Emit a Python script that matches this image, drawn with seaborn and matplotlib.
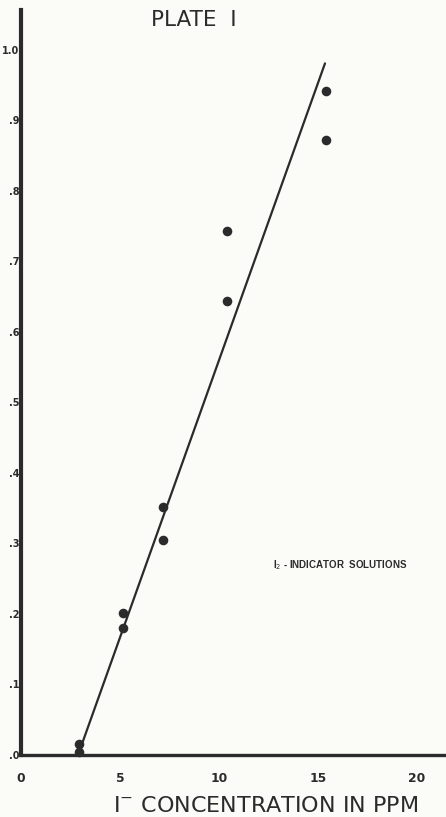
import matplotlib
matplotlib.use("Agg")
import matplotlib.pyplot as plt
import seaborn as sns
import pandas as pd

# Measured absorbance readings for iodide standards
conc_ppm = [2.93, 2.93, 5.15, 5.15, 7.17, 7.17, 10.38, 10.38, 15.4, 15.4]
absorbance = [0.015, 0.004, 0.201, 0.180, 0.352, 0.305, 0.743, 0.644, 0.942, 0.872]

# Calibration line end points
fit_x = [2.88, 15.35]
fit_y = [0.0, 0.981]

x_ticks = [0, 5, 10, 15, 20]
x_tick_labels = ["0", "5", "10", "15", "20"]
y_ticks = [0.0, 0.1, 0.2, 0.3, 0.4, 0.5, 0.6, 0.7, 0.8, 0.9, 1.0]
y_tick_labels = [".0", ".1", ".2", ".3", ".4", ".5", ".6", ".7", ".8", ".9", "1.0"]

ink = "#2b2b2b"
paper = "#fbfbf8"

sns.set_theme(style="white")
plt.rcParams["font.family"] = ["DejaVu Sans"]

fig = plt.figure(figsize=(4.46, 8.17), dpi=100, facecolor=paper)
ax = fig.add_axes([21 / 446, 62 / 817, 1 - 21 / 446, (755 - 10) / 817])
ax.set_facecolor(paper)

points = pd.DataFrame({"conc": conc_ppm, "abs": absorbance})
fit = pd.DataFrame({"conc": fit_x, "abs": fit_y})

sns.lineplot(data=fit, x="conc", y="abs", ax=ax, color=ink, linewidth=1.6)
sns.scatterplot(data=points, x="conc", y="abs", ax=ax, color=ink, s=48,
                edgecolor=ink, linewidth=0, clip_on=False, zorder=5)

ax.set_xlim(0, 21.46)
ax.set_ylim(0, 1.0567)

for side in ["top", "right"]:
    ax.spines[side].set_visible(False)
ax.spines["left"].set_linewidth(3.0)
ax.spines["bottom"].set_linewidth(2.4)
ax.spines["left"].set_color(ink)
ax.spines["bottom"].set_color(ink)

ax.set_xticks(x_ticks)
ax.set_xticklabels(x_tick_labels, fontsize=8.8, fontweight="bold", color=ink)
ax.set_yticks(y_ticks)
ax.set_yticklabels(y_tick_labels, fontsize=7, fontweight="bold", color=ink)
ax.tick_params(axis="both", direction="in", length=4, width=1.0, colors=ink,
               labelcolor=ink)
ax.tick_params(axis="x", pad=12)
ax.tick_params(axis="y", pad=1)

ax.set_xlabel("")
ax.set_ylabel("")

fig.text(194 / 446, 1 - 20 / 817, "PLATE  I", ha="center", va="center",
         fontsize=15.5, color=ink)
fig.text(266 / 446, 1 - 806 / 817, "I$^{-}$ CONCENTRATION IN PPM",
         ha="center", va="center", fontsize=16, color=ink)
ax.text(12.7, 0.27, "I$_{2}$ - INDICATOR  SOLUTIONS",
        ha="left", va="center", fontsize=7.0, fontweight="bold", color=ink,
        family=["Liberation Sans", "DejaVu Sans"])

fig.savefig("out.png", dpi=100, facecolor=paper)
